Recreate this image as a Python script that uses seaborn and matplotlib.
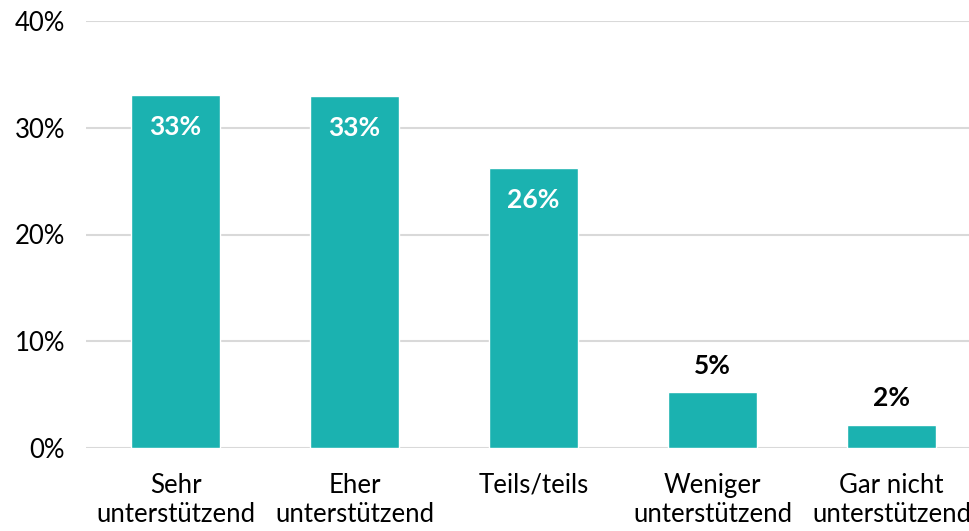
import matplotlib
matplotlib.use("Agg")
import matplotlib.pyplot as plt
import seaborn as sns
import pandas as pd
from matplotlib.ticker import FuncFormatter

# ── Data ─────────────────────────────────────────────────────────────
categories = ["Sehr\nunterstützend", "Eher\nunterstützend", "Teils/teils",
              "Weniger\nunterstützend", "Gar nicht\nunterstützend"]
values = [33.1, 33.0, 26.2, 5.2, 2.2]
labels = ["33%", "33%", "26%", "5%", "2%"]

df = pd.DataFrame({"cat": categories, "val": values})

sns.set_theme(style="white")
plt.rcParams['font.family'] = ['Lato', 'DejaVu Sans']

fig = plt.figure(figsize=(9.7, 5.31), dpi=100)
ax = fig.add_axes([86/970, 83/531, 884/970, 427/531])

sns.barplot(data=df, x="cat", y="val", color="#1BB2B0", width=0.5,
            saturation=1, ax=ax, zorder=3)

ax.set_ylim(0, 40)
ax.set_xlim(-0.5, 4.5 - 11/179)
ax.set_yticks([0, 10, 20, 30, 40])
ax.yaxis.set_major_formatter(FuncFormatter(lambda v, p: f"{v:.0f}%"))
ax.grid(axis="y", color="#d9d9d9", linewidth=1.5, zorder=0)
ax.grid(axis="x", visible=False)
for s in ax.spines.values():
    s.set_visible(False)
ax.tick_params(axis="both", length=0, labelsize=18.5, colors="black")
ax.tick_params(axis="y", pad=15)
ax.tick_params(axis="x", pad=18)
ax.set_xlabel("")
ax.set_ylabel("")

# value labels
for i, (v, lab) in enumerate(zip(values, labels)):
    if v > 10:
        ax.annotate(lab, (i, v), xytext=(0, -23), textcoords="offset points",
                    ha="center", va="center", color="white",
                    fontsize=19, fontweight="bold")
    else:
        ax.annotate(lab, (i, v), xytext=(0, 19), textcoords="offset points",
                    ha="center", va="center", color="black",
                    fontsize=19, fontweight="bold")

fig.savefig("out.png", dpi=100)
